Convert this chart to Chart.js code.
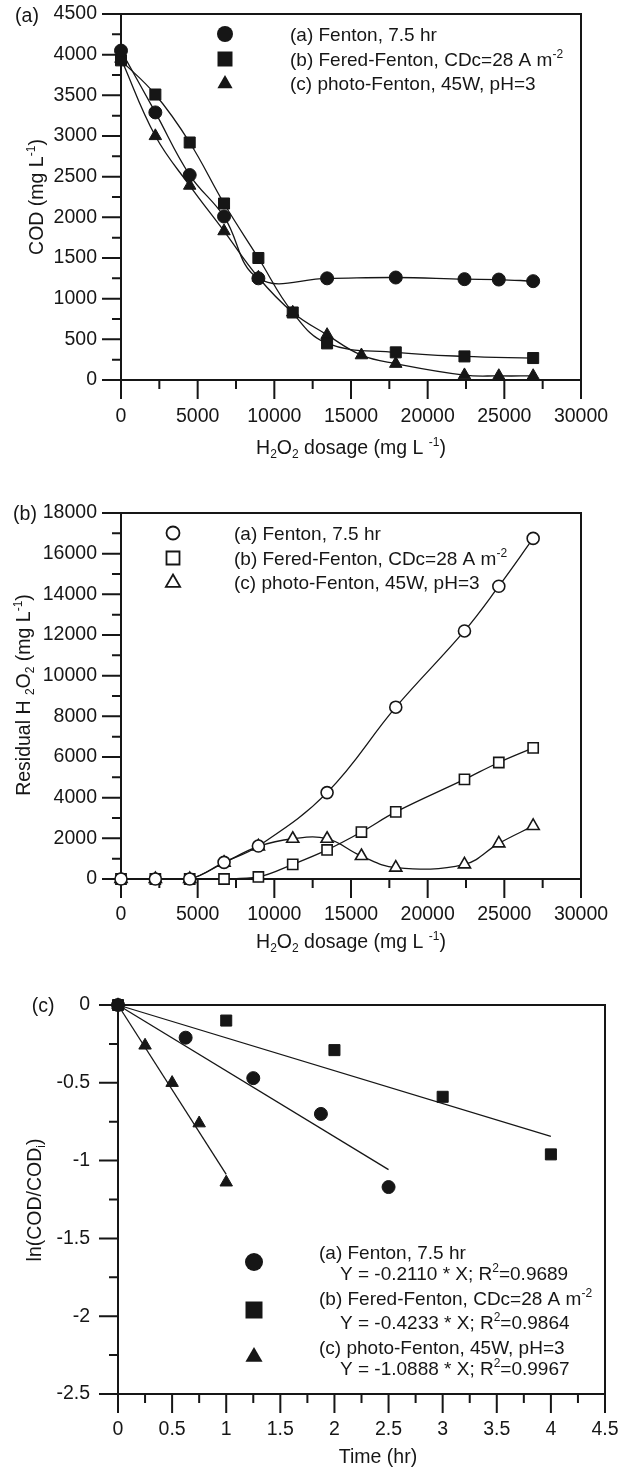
<!DOCTYPE html>
<html>
<head>
<meta charset="utf-8">
<script src="https://cdn.jsdelivr.net/npm/chart.js@4.4.1/dist/chart.umd.min.js"></script>
<style>
  html, body { margin: 0; padding: 0; background: #fff; }
  #wrap { position: relative; width: 629px; height: 1469px; overflow: hidden; }
  canvas { position: absolute; left: 0; }
</style>
</head>
<body>
<div id="wrap">
  <canvas id="chartA" width="629" height="490" style="top:-20px;width:629px;height:490px"></canvas>
  <canvas id="chartB" width="629" height="480" style="top:480px;width:629px;height:480px"></canvas>
  <canvas id="chartC" width="645" height="509" style="top:960px;width:645px;height:509px"></canvas>
</div>
<script>
// (a) COD vs H2O2 dosage (mg/L)
const codFentonX = [0, 2240, 4480, 6720, 8960, 13440, 17920, 22400, 24640, 26880];
const codFenton  = [4050, 3290, 2520, 2010, 1250, 1250, 1260, 1240, 1235, 1215];
const codFeredX  = [0, 2240, 4480, 6720, 8960, 11200, 13440, 17920, 22400, 26880];
const codFered   = [3930, 3510, 2920, 2170, 1500, 830, 450, 340, 290, 270];
const codPhotoX  = [0, 2240, 4480, 6720, 8960, 11200, 13440, 15680, 17920, 22400, 24640, 26880];
const codPhoto   = [3950, 3000, 2390, 1830, 1260, 830, 555, 305, 200, 60, 50, 50];

// (b) residual H2O2 vs H2O2 dosage
const resFentonX = [0, 2240, 4480, 6720, 8960, 13440, 17920, 22400, 24640, 26880];
const resFenton  = [0, 0, 0, 820, 1620, 4250, 8450, 12200, 14400, 16750];
const resFeredX  = [0, 2240, 4480, 6720, 8960, 11200, 13440, 15680, 17920, 22400, 24640, 26880];
const resFered   = [0, 0, 0, 0, 100, 720, 1430, 2310, 3300, 4900, 5730, 6450];
const resPhotoX  = [0, 2240, 4480, 6720, 8960, 11200, 13440, 15680, 17920, 22400, 24640, 26880];
const resPhoto   = [0, 0, 0, 800, 1600, 1980, 1980, 1130, 560, 720, 1750, 2610];

// (c) ln(COD/CODi) vs time (hr)
const lnFentonT = [0, 0.625, 1.25, 1.875, 2.5];
const lnFenton  = [0, -0.21, -0.47, -0.70, -1.17];
const lnFeredT  = [0, 1, 2, 3, 4];
const lnFered   = [0, -0.10, -0.29, -0.59, -0.96];
const lnPhotoT  = [0, 0.25, 0.5, 0.75, 1];
const lnPhoto   = [0, -0.26, -0.50, -0.76, -1.14];
// fitted lines (end points)
const fitFentonT = [0, 2.5];  const fitFenton = [0, -1.058];
const fitFeredT  = [0, 4];    const fitFered  = [0, -0.844];
const fitPhotoT  = [0, 1];    const fitPhoto  = [0, -1.089];

const INK = '#161616';
const FONT = '"Liberation Sans", Arial, Helvetica, sans-serif';
const FS = 19.5;   // ticks and axis titles
const LFS = 19;    // legend text
Chart.defaults.font.family = FONT;
Chart.defaults.font.size = FS;
Chart.defaults.color = INK;

function pts(xs, ys) { return xs.map((x, i) => ({ x: x, y: ys[i] })); }

// text with sub/superscripts: parts = [[text, 'sub'|'sup'|undefined], ...]
function drawRich(ctx, parts, x, y, size, align) {
  const small = Math.round(size * 0.62);
  let w = 0;
  const widths = parts.map(p => {
    ctx.font = (p[1] ? small : size) + 'px ' + FONT;
    const m = ctx.measureText(p[0]).width;
    w += m;
    return m;
  });
  let cx = align === 'center' ? x - w / 2 : (align === 'right' ? x - w : x);
  ctx.textAlign = 'left';
  ctx.textBaseline = 'alphabetic';
  ctx.fillStyle = INK;
  const base = y + size * 0.36;
  parts.forEach((p, i) => {
    ctx.font = (p[1] ? small : size) + 'px ' + FONT;
    let dy = 0;
    if (p[1] === 'sub') dy = size * 0.22;
    if (p[1] === 'sup') dy = -size * 0.42;
    ctx.fillText(p[0], cx, base + dy);
    cx += widths[i];
  });
}

function drawMarker(ctx, style, x, y, r, filled) {
  ctx.beginPath();
  if (style === 'circle') ctx.arc(x, y, r, 0, Math.PI * 2);
  else if (style === 'rect') ctx.rect(x - r, y - r, 2 * r, 2 * r);
  else { ctx.moveTo(x, y - r); ctx.lineTo(x + r * 0.95, y + r * 0.65); ctx.lineTo(x - r * 0.95, y + r * 0.65); ctx.closePath(); }
  if (filled) { ctx.fillStyle = INK; ctx.fill(); }
  else { ctx.fillStyle = '#fff'; ctx.fill(); ctx.lineWidth = 1.8; ctx.strokeStyle = INK; ctx.stroke(); }
}

// frame, major/minor tick marks, titles and legend
function decor(o) {
  return {
    id: 'decor',
    beforeDatasetsDraw(chart) {
      const ctx = chart.ctx, a = chart.chartArea, sx = chart.scales.x, sy = chart.scales.y;
      ctx.save();
      ctx.strokeStyle = INK;
      ctx.lineWidth = 2;
      ctx.strokeRect(a.left, a.top, a.right - a.left, a.bottom - a.top);
      ctx.beginPath();
      const nx = Math.round((sx.max - sx.min) / o.xMinor);
      for (let i = 0; i <= nx; i++) {
        const px = sx.getPixelForValue(sx.min + i * o.xMinor);
        ctx.moveTo(px, a.bottom);
        ctx.lineTo(px, a.bottom + (i % 2 === 0 ? 19 : 9));
      }
      const ny = Math.round((sy.max - sy.min) / o.yMinor);
      for (let i = 0; i <= ny; i++) {
        const py = sy.getPixelForValue(sy.min + i * o.yMinor);
        ctx.moveTo(a.left, py);
        ctx.lineTo(a.left - (i % 2 === 0 ? 19 : 9), py);
      }
      ctx.stroke();
      ctx.restore();
    },
    afterDraw(chart) {
      const ctx = chart.ctx;
      ctx.save();
      drawRich(ctx, [[o.letter]], o.letterPos[0], o.letterPos[1], FS, 'center');
      drawRich(ctx, o.xTitle, o.xTitlePos[0], o.xTitlePos[1], FS, 'center');
      ctx.save();
      ctx.translate(o.yTitlePos[0], o.yTitlePos[1]);
      ctx.rotate(-Math.PI / 2);
      drawRich(ctx, o.yTitle, 0, 0, FS, 'center');
      ctx.restore();
      o.markers.forEach(m => drawMarker(ctx, m[0], m[1], m[2], m[3], o.filled));
      o.lines.forEach(l => drawRich(ctx, l[2], l[0], l[1], LFS, 'left'));
      ctx.restore();
    }
  };
}

function series(data, style, radius, filled, curve) {
  return {
    data: data,
    showLine: true,
    tension: curve ? 0.4 : 0,
    borderColor: INK,
    borderWidth: 1.3,
    pointStyle: style,
    pointRadius: radius,
    pointBackgroundColor: filled ? INK : '#fff',
    pointBorderColor: INK,
    pointBorderWidth: filled ? 1 : 1.6,
    clip: false
  };
}

function axes(xMin, xMax, xStep, yMin, yMax, yStep, left, xHeight, xPad, yPad) {
  return {
    x: {
      type: 'linear', min: xMin, max: xMax,
      grid: { display: false }, border: { display: false },
      ticks: { stepSize: xStep, padding: xPad, autoSkip: false, maxRotation: 0, callback: v => String(v) },
      afterFit: s => { s.height = xHeight; }
    },
    y: {
      type: 'linear', min: yMin, max: yMax,
      grid: { display: false }, border: { display: false },
      ticks: { stepSize: yStep, padding: yPad, autoSkip: false, callback: v => String(v) },
      afterFit: s => { s.width = left; }
    }
  };
}

const baseOptions = {
  responsive: false,
  animation: false,
  devicePixelRatio: 1,
  plugins: { legend: { display: false }, tooltip: { enabled: false } }
};

const dosageTitle = [['H'], ['2', 'sub'], ['O'], ['2', 'sub'], [' dosage (mg L '], ['-1', 'sup'], [')']];
const leg1 = [['(a) Fenton, 7.5 hr']];
const leg2 = [['(b) Fered-Fenton, CDc=28 A m'], ['-2', 'sup']];
const leg3 = [['(c) photo-Fenton, 45W, pH=3']];

// ---- chart (a)  (canvas starts 20px above the page)
new Chart(document.getElementById('chartA'), {
  type: 'scatter',
  data: {
    datasets: [
      series(pts(codFentonX, codFenton), 'circle', 6.5, true, true),
      series(pts(codFeredX, codFered), 'rect', 7.8, true, true),
      series(pts(codPhotoX, codPhoto), 'triangle', 7.2, true, true)
    ]
  },
  options: Object.assign({}, baseOptions, {
    layout: { padding: { left: 0, top: 34, right: 48, bottom: 0 } },
    scales: axes(0, 30000, 5000, 0, 4500, 500, 121, 90, 17, 16)
  }),
  plugins: [decor({
    xMinor: 2500, yMinor: 250, filled: true,
    letter: '(a)', letterPos: [27, 35],
    xTitle: dosageTitle, xTitlePos: [351, 467],
    yTitle: [['COD (mg L'], ['-1', 'sup'], [')']], yTitlePos: [36, 217],
    markers: [['circle', 225, 54, 8], ['rect', 225, 79, 7.5], ['triangle', 225, 103, 8]],
    lines: [[290, 54, leg1], [290, 79, leg2], [290, 103, leg3]]
  })]
});

// ---- chart (b)
new Chart(document.getElementById('chartB'), {
  type: 'scatter',
  data: {
    datasets: [
      series(pts(resFentonX, resFenton), 'circle', 6, false, true),
      series(pts(resFeredX, resFered), 'rect', 7.2, false, true),
      series(pts(resPhotoX, resPhoto), 'triangle', 7, false, true)
    ]
  },
  options: Object.assign({}, baseOptions, {
    layout: { padding: { left: 0, top: 33, right: 48, bottom: 0 } },
    scales: axes(0, 30000, 5000, 0, 18000, 2000, 121, 81, 16, 16)
  }),
  plugins: [decor({
    xMinor: 2500, yMinor: 1000, filled: false,
    letter: '(b)', letterPos: [25, 33],
    xTitle: dosageTitle, xTitlePos: [351, 461],
    yTitle: [['Residual H '], ['2', 'sub'], ['O'], ['2', 'sub'], [' (mg L'], ['-1', 'sup'], [')']], yTitlePos: [23, 215],
    markers: [['circle', 173, 53, 6.5], ['rect', 173, 78, 6.5], ['triangle', 173, 102, 7.5]],
    lines: [[234, 53, leg1], [234, 78, leg2], [234, 102, leg3]]
  })]
});

// ---- chart (c)  (canvas a little wider than the page so the frame reaches x=605)
function fitLine(data) {
  return { data: data, showLine: true, borderColor: INK, borderWidth: 1.3, pointRadius: 0, clip: false };
}
function dots(data, style, radius) {
  return { data: data, showLine: false, pointStyle: style, pointRadius: radius,
           pointBackgroundColor: INK, pointBorderColor: INK, clip: false };
}
new Chart(document.getElementById('chartC'), {
  type: 'scatter',
  data: {
    datasets: [
      dots(pts(lnFentonT, lnFenton), 'circle', 6.5),
      dots(pts(lnFeredT, lnFered), 'rect', 7.8),
      dots(pts(lnPhotoT, lnPhoto), 'triangle', 7.2),
      fitLine(pts(fitFentonT, fitFenton)),
      fitLine(pts(fitFeredT, fitFered)),
      fitLine(pts(fitPhotoT, fitPhoto))
    ]
  },
  options: Object.assign({}, baseOptions, {
    layout: { padding: { left: 0, top: 45, right: 40, bottom: 0 } },
    scales: axes(0, 4.5, 0.5, -2.5, 0, 0.5, 118, 75, 16, 20)
  }),
  plugins: [decor({
    xMinor: 0.25, yMinor: 0.25, filled: true,
    letter: '(c)', letterPos: [43, 45],
    xTitle: [['Time (hr)']], xTitlePos: [378, 496],
    yTitle: [['ln(COD/COD'], ['i', 'sub'], [')']], yTitlePos: [34, 240],
    markers: [['circle', 254, 302, 9], ['rect', 254, 350, 8.5], ['triangle', 254, 396, 9]],
    lines: [
      [319, 292, leg1],
      [340, 313, [['Y = -0.2110 * X; R'], ['2', 'sup'], ['=0.9689']]],
      [319, 338, leg2],
      [340, 362, [['Y = -0.4233 * X; R'], ['2', 'sup'], ['=0.9864']]],
      [319, 387, leg3],
      [340, 408, [['Y = -1.0888 * X; R'], ['2', 'sup'], ['=0.9967']]]
    ]
  })]
});
</script>
</body>
</html>
